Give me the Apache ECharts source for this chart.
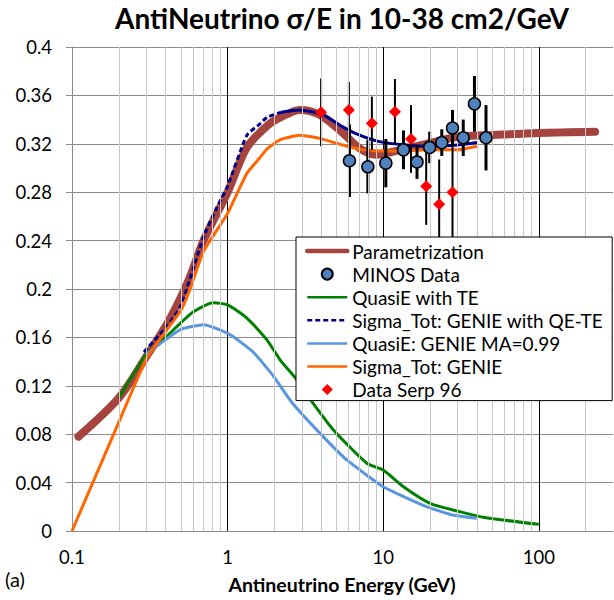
<!DOCTYPE html>
<html>
<head>
<meta charset="utf-8">
<script src="https://cdn.jsdelivr.net/npm/echarts@6/dist/echarts.min.js"></script>
<style>html,body{margin:0;padding:0;background:#fff}#c{width:614px;height:600px}</style>
</head>
<body>
<div id="c"></div>
<script>
// ---- data ----
const paramE = [0.11, 0.2, 0.3, 0.42, 0.56, 0.7, 1, 1.33, 1.8, 2.2, 2.9, 3.9, 5.5, 7.1, 9, 13, 19, 31, 46, 100, 230];
const paramV = [0.078, 0.11, 0.144, 0.174, 0.207, 0.240, 0.280, 0.317, 0.335, 0.342, 0.348, 0.344, 0.329, 0.316, 0.311, 0.315, 0.320, 0.326, 0.327, 0.329, 0.330];

const qeTeE = [0.2, 0.3, 0.37, 0.5, 0.6, 0.81, 1, 1.33, 1.79, 2.18, 2.79, 3.39, 4.79, 7.85, 10, 13.5, 20, 31, 44, 100];
const qeTeV = [0.110, 0.146, 0.156, 0.172, 0.181, 0.1887, 0.1868, 0.176, 0.158, 0.1413, 0.125, 0.109, 0.0835, 0.056, 0.0504, 0.0366, 0.0229, 0.016, 0.0113, 0.0055];

const totQeTeE = [0.29, 0.4, 0.5, 0.7, 0.85, 1, 1.33, 1.6, 1.8, 2.2, 2.9, 4.1, 5.5, 6.8, 9.3, 14, 21, 30, 40];
const totQeTeV = [0.148, 0.168, 0.186, 0.243, 0.267, 0.285, 0.327, 0.336, 0.342, 0.346, 0.348, 0.344, 0.334, 0.328, 0.322, 0.319, 0.318, 0.319, 0.321];

const qeGenieE = [0.3, 0.37, 0.5, 0.7, 0.9, 1.09, 1.47, 1.97, 2.6, 3.93, 5.84, 10, 19, 28, 40];
const qeGenieV = [0.146, 0.155, 0.1667, 0.1705, 0.166, 0.1606, 0.1475, 0.128, 0.106, 0.0807, 0.0587, 0.0366, 0.0201, 0.0132, 0.0105];

const totGenieE = [0.1, 0.2, 0.3, 0.4, 0.5, 0.57, 0.7, 1, 1.33, 1.6, 1.8, 2.2, 2.9, 3.9, 5.5, 7.1, 9.1, 13, 19, 30, 40];
const totGenieV = [0, 0.09, 0.142, 0.165, 0.182, 0.199, 0.231, 0.2625, 0.2956, 0.308, 0.316, 0.3237, 0.327, 0.3245, 0.319, 0.3154, 0.3143, 0.314, 0.315, 0.315, 0.318];

const minosE = [6.07, 7.97, 10.4, 13.5, 16.5, 19.9, 23.8, 27.9, 32.7, 38.6, 45.8];
const minosV = [0.306, 0.301, 0.304, 0.315, 0.305, 0.317, 0.321, 0.333, 0.325, 0.353, 0.325];
const minosErr = [0.030, 0.022, 0.020, 0.016, 0.014, 0.013, 0.011, 0.015, 0.015, 0.023, 0.027];

const serpE = [3.99, 6.02, 8.46, 11.9, 15.1, 18.9, 22.9, 27.9];
const serpV = [0.346, 0.348, 0.337, 0.3465, 0.324, 0.285, 0.270, 0.280];
const serpErr = [0.028, 0.023, 0.022, 0.027, 0.028, 0.032, 0.037, 0.050];

const minorGridE = [0.2,0.3,0.4,0.5,0.6,0.7,0.8,0.9, 2,3,4,5,6,7,8,9, 20,30,40,50,60,70,80,90, 200];
const xTickLabels = ['0.1', '1', '10', '100'];

const names = ['Parametrization', 'MINOS Data', 'QuasiE with TE', 'Sigma_Tot: GENIE with QE-TE',
  'QuasiE: GENIE MA=0.99', 'Sigma_Tot: GENIE', 'Data Serp 96'];

// ---- helpers ----
const zip = (a, b) => a.map((x, i) => [x, b[i]]);
const FONT = 'Lato';
const splitAt = 2.2;
const navyDashed = zip(totQeTeE, totQeTeV).filter(p => p[0] <= splitAt);
const navySolid = zip(totQeTeE, totQeTeV).filter(p => p[0] >= splitAt);

function errSeries(E, V, Err, width, z) {
  return {
    type: 'custom', silent: true, z: z,
    encode: { x: 0, y: [1, 2] },
    data: E.map((e, i) => [e, V[i] - Err[i], V[i] + Err[i]]),
    renderItem: function (params, api) {
      const p1 = api.coord([api.value(0), api.value(1)]);
      const p2 = api.coord([api.value(0), api.value(2)]);
      return { type: 'line', shape: { x1: p1[0], y1: p1[1], x2: p2[0], y2: p2[1] },
               style: { stroke: '#000', lineWidth: width } };
    }
  };
}

const noSym = { opacity: 0, color: 'rgba(0,0,0,0)', borderWidth: 0 };

const chart = echarts.init(document.getElementById('c'), null, { renderer: 'svg' });
chart.setOption({
  animation: false,
  backgroundColor: '#fff',
  grid: { left: 72, right: 1, top: 47, bottom: 69 },
  graphic: [
    { type: 'text', x: 342, y: 18, style: { text: 'AntiNeutrino σ/E in 10-38 cm2/GeV', font: 'bold 28px Lato', fill: '#000', align: 'center', verticalAlign: 'middle' } },
    { type: 'text', x: 5, y: 579, style: { text: '(a)', font: '20px Lato', fill: '#000', align: 'left', verticalAlign: 'middle' } },
    { type: 'text', x: 342, y: 584, style: { text: 'Antineutrino Energy (GeV)', font: 'bold 19.5px Lato', fill: '#000', align: 'center', verticalAlign: 'middle' } }
  ],
  xAxis: {
    type: 'log', logBase: 10, min: 0.1, max: 300,
    axisLine: { show: true, lineStyle: { color: '#8c8c8c', width: 1 } },
    axisTick: { show: false },
    axisLabel: { fontFamily: FONT, fontSize: 18.5, color: '#000', margin: 16, showMaxLabel: false,
      formatter: function (v) { const i = Math.round(Math.log10(v)) + 1; return xTickLabels[i] !== undefined ? xTickLabels[i] : ''; } },
    splitLine: { show: true, showMinLine: false, showMaxLine: false, lineStyle: { color: '#000', width: 1 } }
  },
  yAxis: {
    type: 'value', min: 0, max: 0.4, interval: 0.04,
    axisLine: { show: true, lineStyle: { color: '#8c8c8c', width: 1 } },
    axisTick: { show: true, length: 6, lineStyle: { color: '#8c8c8c' } },
    axisLabel: { fontFamily: FONT, fontSize: 18.5, color: '#000', margin: 20 },
    splitLine: { show: true, lineStyle: { color: '#8c8c8c', width: 1 } }
  },
  legend: {
    orient: 'vertical', left: 296, top: 237, z: 10,
    backgroundColor: '#fff', borderColor: '#000', borderWidth: 1,
    padding: [4, 9, 1, 9], itemGap: 3.1, itemWidth: 40, itemHeight: 11,
    symbolKeepAspect: true,
    textStyle: { fontFamily: FONT, fontSize: 19, color: '#000', lineHeight: 20, padding: [0, 0, 0, 0] },
    data: [
      { name: names[0], lineStyle: { width: 4.5 }, itemStyle: noSym },
      { name: names[1], icon: 'circle' },
      { name: names[2], lineStyle: { width: 2.5 }, itemStyle: noSym },
      { name: names[3], lineStyle: { width: 2.5 }, itemStyle: noSym },
      { name: names[4], lineStyle: { width: 2.5 }, itemStyle: noSym },
      { name: names[5], lineStyle: { width: 2.5 }, itemStyle: noSym },
      { name: names[6], icon: 'path://M5,0 L10,5 L5,10 L0,5 Z' }
    ]
  },
  series: [
    { type: 'line', name: '_minor', z: 1, silent: true, data: [[1, -1]], symbol: 'none', lineStyle: { opacity: 0 },
      markLine: { silent: true, symbol: ['none', 'none'], label: { show: false }, animation: false,
        lineStyle: { color: '#c8c8c8', width: 1, type: 'solid' },
        data: minorGridE.map(e => ({ xAxis: e })) } },
    { type: 'line', name: names[0], z: 2, data: zip(paramE, paramV), symbol: 'none', smooth: 0.3,
      lineStyle: { color: '#A5443F', width: 8, cap: 'round', join: 'round' }, itemStyle: { color: '#A5443F' } },
    { type: 'line', name: names[2], z: 3, data: zip(qeTeE, qeTeV), symbol: 'none', smooth: 0.2,
      lineStyle: { color: '#008000', width: 3 }, itemStyle: { color: '#008000' } },
    { type: 'line', name: names[3], z: 3, data: navyDashed, symbol: 'none', smooth: 0.2,
      lineStyle: { color: '#00008B', width: 3, type: [5, 3] }, itemStyle: { color: '#00008B' } },
    { type: 'line', name: names[3], z: 3, data: navySolid, symbol: 'none', smooth: 0.2,
      lineStyle: { color: '#00008B', width: 3 }, itemStyle: { color: '#00008B' } },
    { type: 'line', name: names[4], z: 3, data: zip(qeGenieE, qeGenieV), symbol: 'none', smooth: 0.15,
      lineStyle: { color: '#5A96DC', width: 3 }, itemStyle: { color: '#5A96DC' } },
    { type: 'line', name: names[5], z: 3, data: zip(totGenieE, totGenieV), symbol: 'none', smooth: 0.15,
      lineStyle: { color: '#FF6600', width: 3 }, itemStyle: { color: '#FF6600' } },
    errSeries(serpE, serpV, serpErr, 2, 4),
    errSeries(minosE, minosV, minosErr, 3, 4),
    { type: 'scatter', name: names[6], z: 5, data: zip(serpE, serpV), symbol: 'diamond', symbolSize: 12,
      itemStyle: { color: '#FF0000', opacity: 1 } },
    { type: 'scatter', name: names[1], z: 6, data: zip(minosE, minosV), symbol: 'circle', symbolSize: 12,
      itemStyle: { color: '#4F81BD', borderColor: '#000', borderWidth: 1.5, opacity: 1 } }
  ]
});
</script>
</body>
</html>
